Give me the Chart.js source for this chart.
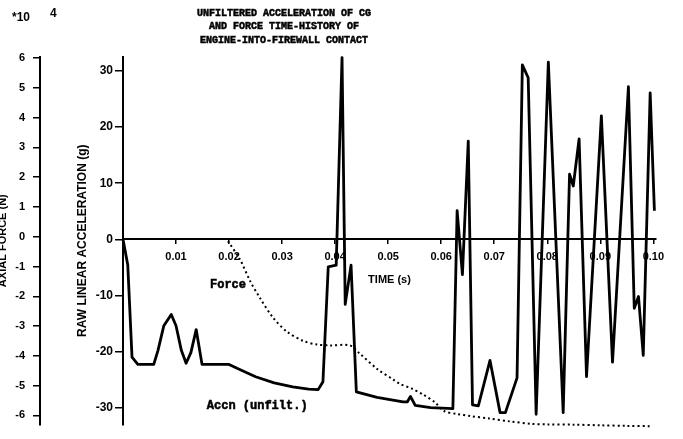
<!DOCTYPE html>
<html>
<head>
<meta charset="utf-8">
<script src="https://cdn.jsdelivr.net/npm/chart.js@4"></script>
<style>
  html, body { margin: 0; padding: 0; background: #fff; }
</style>
</head>
<body>
<canvas id="crashChart" width="683" height="439"></canvas>
<script>
// Unfiltered CG acceleration (g) against time (s)
const accelTime = [0, 0.0009, 0.0017, 0.0028, 0.0058, 0.0066, 0.0077, 0.0091, 0.0100, 0.0110,
  0.0119, 0.0128, 0.0138, 0.0149, 0.0200, 0.0215, 0.0250, 0.0285, 0.0320, 0.0350,
  0.0368, 0.0377, 0.0387, 0.0402, 0.0413, 0.0419, 0.0430, 0.0440, 0.0479, 0.0528,
  0.0536, 0.0542, 0.0551, 0.0580, 0.0622, 0.0630, 0.0640, 0.0651, 0.0659, 0.0670,
  0.0692, 0.0711, 0.0721, 0.0743, 0.0753, 0.0764, 0.0779, 0.0802, 0.0830, 0.0842,
  0.0849, 0.0860, 0.0874, 0.0902, 0.0923, 0.0953, 0.0964, 0.0972, 0.0981, 0.0994, 0.1002];
const accelG = [0, -4.6, -21, -22.3, -22.3, -19.8, -15.4, -13.4, -15.4, -19.8,
  -22.1, -20.2, -16.1, -22.3, -22.3, -23.0, -24.5, -25.6, -26.3, -26.7,
  -26.8, -25.4, -4.9, -4.6, 32.4, -11.6, -4.6, -27.2, -28.2, -29.0,
  -29.0, -28.0, -29.6, -30.0, -30.2, 5.1, -6.3, 17.5, -29.5, -29.7,
  -21.6, -30.9, -30.9, -24.7, 31.1, 28.8, -31.2, 31.6, -30.9, 11.6,
  9.5, 17.9, -24.5, 22.0, -21.9, 27.2, -12.3, -10.2, -20.7, 26.1, 5.1];

// Engine-into-firewall axial force, in units of 1e4 N
const forceTime = [0.0198, 0.0221, 0.0240, 0.0258, 0.0283, 0.0310, 0.0340, 0.0366, 0.0390, 0.0428,
  0.0445, 0.0480, 0.0510, 0.0523, 0.0545, 0.0566, 0.0589, 0.0605, 0.0630, 0.0655,
  0.0690, 0.0730, 0.0770, 0.0800, 0.0850, 0.0900, 0.0950, 0.0995];
const forceN = [-0.15, -0.78, -1.5, -2.05, -2.72, -3.2, -3.5, -3.62, -3.65, -3.65,
  -3.9, -4.45, -4.8, -4.95, -5.1, -5.3, -5.57, -5.85, -5.95, -6.02,
  -6.1, -6.2, -6.28, -6.3, -6.31, -6.33, -6.35, -6.36];

const timeTicks = [0.01, 0.02, 0.03, 0.04, 0.05, 0.06, 0.07, 0.08, 0.09, 0.10];
const accelTicks = [-30, -20, -10, 0, 10, 20, 30];
const forceTicks = [-6, -5, -4, -3, -2, -1, 0, 1, 2, 3, 4, 5, 6];

const titleLines = [
  "UNFILTERED ACCELERATION OF CG",
  "AND FORCE TIME-HISTORY OF",
  "ENGINE-INTO-FIREWALL CONTACT"
];

const sans = '"Liberation Sans", Arial, sans-serif';
const mono = '"Liberation Mono", "Courier New", monospace';

Chart.defaults.color = "#000";

const axisGrid = (len) => ({
  drawOnChartArea: false,
  drawTicks: true,
  tickLength: len,
  color: "#000",
  lineWidth: 1.5,
});
const axisBorder = { display: true, color: "#000", width: 2 };

// heavy typewriter-style text: fill plus a thin stroke
function heavyText(ctx, text, x, y) {
  ctx.fillText(text, x, y);
  ctx.strokeText(text, x, y);
}

// titles, the force exponent and the curve names
const chartText = {
  id: "chartText",
  afterDraw(chart) {
    const { ctx, scales } = chart;
    ctx.save();
    ctx.fillStyle = "#000";
    ctx.strokeStyle = "#000";
    ctx.lineWidth = 0.5;
    ctx.textBaseline = "middle";
    ctx.textAlign = "center";
    ctx.font = "bold 10px " + mono;
    titleLines.forEach((line, i) => heavyText(ctx, line, 284, 13 + i * 13.5));

    ctx.textAlign = "left";
    ctx.font = "bold 12px " + sans;
    ctx.fillText("*10", 12, 18);
    ctx.fillText("4", 50, 14);

    ctx.font = "bold 12px " + mono;
    heavyText(ctx, "Force", scales.x.getPixelForValue(0.0164), scales.y.getPixelForValue(-8.2));
    heavyText(ctx, "Accn (unfilt.)", scales.x.getPixelForValue(0.0158), scales.y.getPixelForValue(-29.8));
    ctx.restore();
  },
};

new Chart(document.getElementById("crashChart"), {
  type: "line",
  data: {
    datasets: [
      {
        label: "Accn (unfilt.)",
        data: accelTime.map((t, i) => ({ x: t, y: accelG[i] })),
        yAxisID: "y",
        borderColor: "#000",
        borderWidth: 2.8,
        borderJoinStyle: "round",
        pointRadius: 0,
        tension: 0,
        clip: false,
      },
      {
        label: "Force",
        data: forceTime.map((t, i) => ({ x: t, y: forceN[i] })),
        yAxisID: "force",
        borderColor: "#000",
        borderWidth: 2,
        borderDash: [2, 3],
        pointRadius: 0,
        tension: 0.3,
        clip: false,
      },
    ],
  },
  options: {
    responsive: false,
    animation: false,
    layout: { padding: { top: 57, bottom: 9, left: 0, right: 27 } },
    plugins: {
      legend: { display: false },
      tooltip: { enabled: false },
    },
    scales: {
      x: {
        type: "linear",
        position: { y: 0 },
        min: 0,
        max: 0.1005,
        afterBuildTicks: (axis) => { axis.ticks = timeTicks.map((v) => ({ value: v })); },
        ticks: {
          padding: 7,
          font: { family: sans, weight: "bold", size: 11 },
          callback: (v) => v.toFixed(2),
          maxRotation: 0,
        },
        grid: axisGrid(4),
        border: axisBorder,
        title: {
          display: true,
          text: "TIME (s)",
          font: { family: sans, weight: "bold", size: 11 },
          padding: { top: 3, bottom: 0 },
        },
      },
      y: {
        position: "left",
        weight: 0,
        min: -33,
        max: 32.5,
        afterBuildTicks: (axis) => { axis.ticks = accelTicks.map((v) => ({ value: v })); },
        afterFit: (axis) => { axis.width = 83; },
        ticks: {
          padding: 2,
          font: { family: sans, weight: "bold", size: 12 },
        },
        grid: axisGrid(8),
        border: axisBorder,
        title: {
          display: true,
          text: "RAW LINEAR ACCELERATION (g)",
          font: { family: sans, weight: "bold", size: 12, lineHeight: "12px" },
          padding: { top: 37, bottom: 0 },
        },
      },
      force: {
        position: "left",
        weight: 1,
        min: -6.3,
        max: 6.03,
        afterBuildTicks: (axis) => { axis.ticks = forceTicks.map((v) => ({ value: v })); },
        afterFit: (axis) => { axis.width = 40; },
        ticks: {
          padding: 8,
          font: { family: sans, weight: "bold", size: 11 },
        },
        grid: axisGrid(7),
        border: axisBorder,
        title: {
          display: true,
          text: "AXIAL FORCE (N)",
          font: { family: sans, weight: "bold", size: 11, lineHeight: "6px" },
          padding: { top: 0, bottom: 0 },
        },
      },
    },
  },
  plugins: [chartText],
});
</script>
</body>
</html>
